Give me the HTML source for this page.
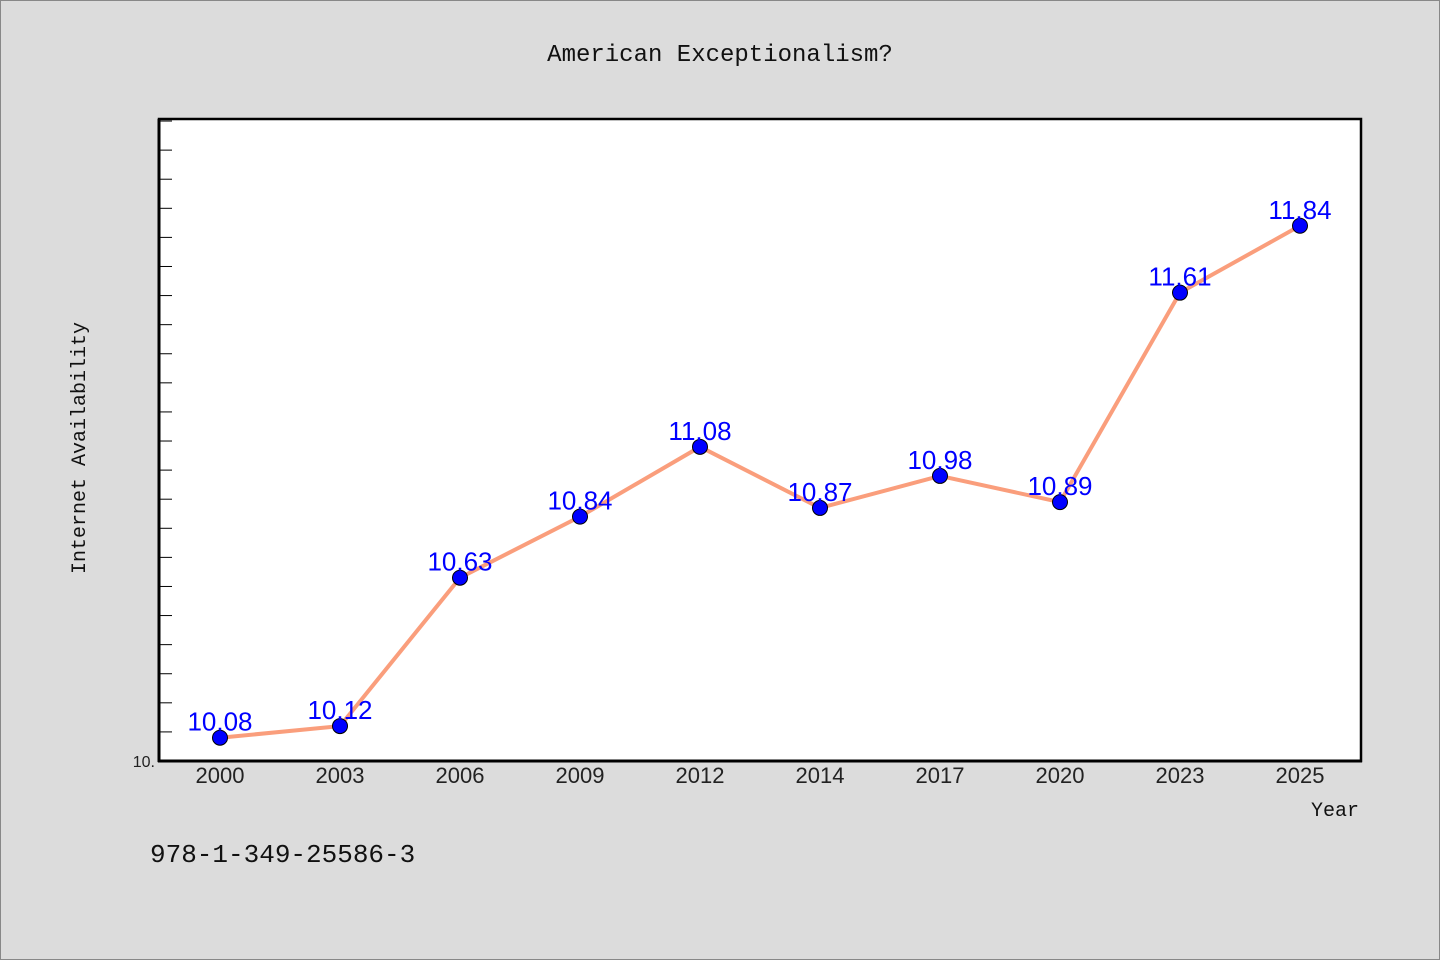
<!DOCTYPE html>
<html><head><meta charset="utf-8"><style>
body{margin:0;background:#dcdcdc;}
svg{display:block;font-family:"Liberation Sans","WenQuanYi Zen Hei",sans-serif;}
.mono{font-family:"WenQuanYi Zen Hei","Liberation Mono",monospace;}
</style></head><body>
<svg id="chart" width="1440" height="960">
<rect x="0.5" y="0.5" width="1439" height="959" fill="#dcdcdc" stroke="#888"/>
<text class="mono" x="720" y="61" font-size="24" text-anchor="middle" fill="#111">American Exceptionalism?</text>
<rect x="159" y="119" width="1202" height="642" fill="#fff" stroke="#000" stroke-width="2.5"/>
<line x1="159" y1="119" x2="159" y2="762" stroke="#000" stroke-width="3"/>
<line x1="158" y1="761" x2="1362" y2="761" stroke="#000" stroke-width="3"/>
<g id="yticks"></g><g id="xticks"></g><g id="series"></g>
<text class="mono" x="85" y="448" font-size="20" text-anchor="middle" fill="#111" transform="rotate(-90 85 448)">Internet Availability</text>
<text class="mono" x="1359" y="816" font-size="20" text-anchor="end" fill="#111">Year</text>
<text class="mono" x="150" y="862" font-size="26" fill="#111">978-1-349-25586-3</text>
</svg>
<script>
const categories=["2000","2003","2006","2009","2012","2014","2017","2020","2023","2025"];
const values=[10.08,10.12,10.63,10.84,11.08,10.87,10.98,10.89,11.61,11.84];
const valueLabels=["10.08","10.12","10.63","10.84","11.08","10.87","10.98","10.89","11.61","11.84"];
const yMin=10, yMax=12.207;
const NS="http://www.w3.org/2000/svg";
const plotTop=119,plotBot=761;
const yScale=v=>plotBot-(v-yMin)/(yMax-yMin)*(plotBot-plotTop);
const xScale=i=>220+i*((1300-220)/(categories.length-1));
function mk(t,a,p){const e=document.createElementNS(NS,t);for(const k in a)e.setAttribute(k,a[k]);p.appendChild(e);return e;}
const yt=document.getElementById('yticks');
for(let v=yMin+0.1;v<yMax;v+=0.1){
 const l=mk('line',{x1:159,x2:172,y1:yScale(v),y2:yScale(v),stroke:'#000','stroke-width':1},yt);
 
 
}
const yl=mk('text',{x:155,y:767,'font-size':16,'text-anchor':'end',fill:'#222'},yt);
yl.textContent="10.";


const xt=document.getElementById('xticks');
categories.forEach((c,i)=>{
 const t=mk('text',{x:xScale(i),y:783,'font-size':22,'text-anchor':'middle',fill:'#222'},xt);
 t.textContent=c;
 
 
});
const s=document.getElementById('series');
const line=mk('polyline',{points:values.map((v,i)=>xScale(i)+','+yScale(v)).join(' '),fill:'none',stroke:'#fa9e7c','stroke-width':4},s);


values.forEach((v,i)=>{
 const c=mk('circle',{cx:xScale(i),cy:yScale(v),r:7.5,fill:'#0000ff',stroke:'#000','stroke-width':1},s);
 
 
 const t=mk('text',{x:xScale(i),y:yScale(v)-7,'font-size':26,'text-anchor':'middle',fill:'#0000ff'},s);
 t.textContent=valueLabels[i];
 
 
});
</script>
</body></html>
